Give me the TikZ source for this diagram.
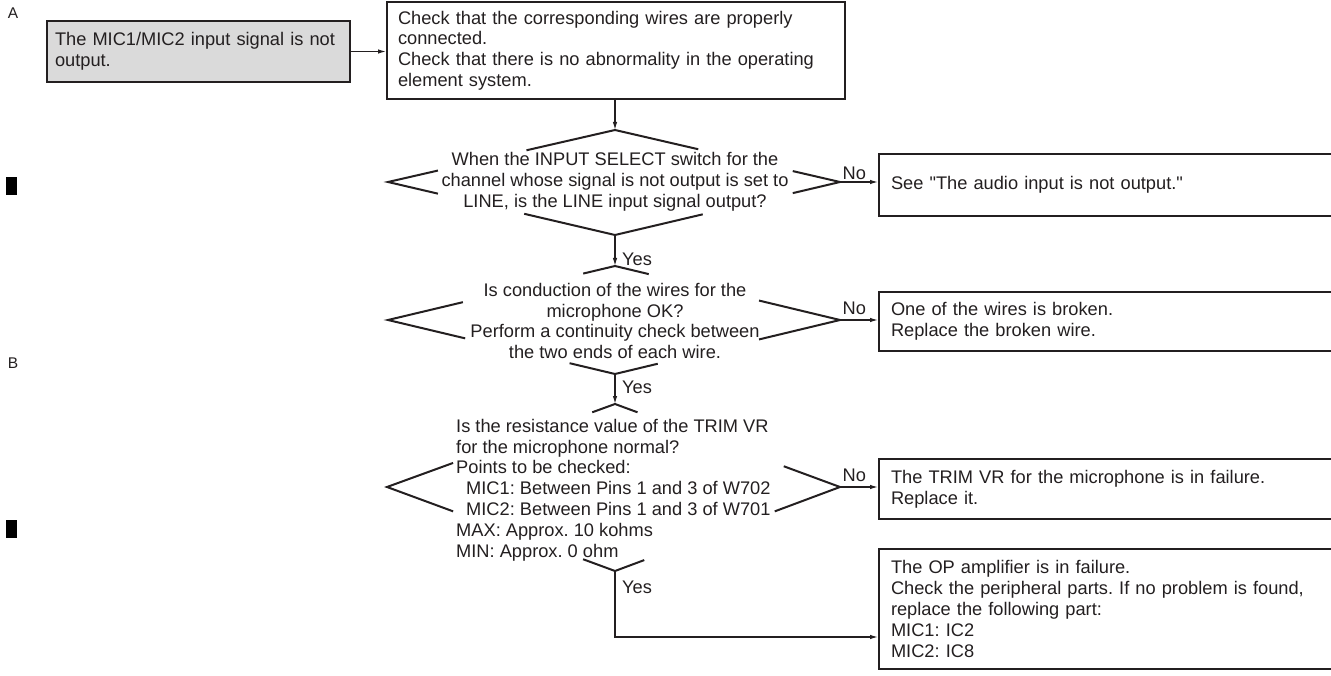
\documentclass[tikz,border=0pt]{standalone}
\usepackage{fontspec}
\setmainfont{Liberation Sans}[Ligatures=TeXOff]
\usetikzlibrary{arrows.meta,calc}
\definecolor{ink}{HTML}{231F20}
\definecolor{startfill}{HTML}{DADADA}
\frenchspacing

% Decision outline: four edges, each drawn only near its two vertices.
% #1 prefix of the vertex coordinates (t,l,r,b); #2..#9 fractions of each edge
% drawn from: t->l, l->t, t->r, r->t, b->l, l->b, b->r, r->b
\newcommand\decisionoutline[9]{%
  \draw[dline] ($(#1t)!#2!(#1l)$) -- (#1t) -- ($(#1t)!#4!(#1r)$);
  \draw[dline] ($(#1l)!#3!(#1t)$) -- (#1l) -- ($(#1l)!#7!(#1b)$);
  \draw[dline] ($(#1r)!#5!(#1t)$) -- (#1r) -- ($(#1r)!#9!(#1b)$);
  \draw[dline] ($(#1b)!#6!(#1l)$) -- (#1b) -- ($(#1b)!#8!(#1r)$);
}

\begin{document}
\begin{tikzpicture}[x=1pt,y=-1pt,
  every node/.style={font=\fontsize{18.25}{20.8}\selectfont, text=ink},
  box/.style={draw=ink, line width=2pt, anchor=north west, align=left,
              inner xsep=11pt, inner ysep=0pt},
  qtext/.style={inner sep=0pt},
  dline/.style={draw=ink, line width=2pt, line join=miter},
  arr/.style={draw=ink, line width=1.2pt, -{Latex[length=8pt,width=4.5pt]}},
  lbl/.style={inner sep=0pt},
  side/.style={font=\fontsize{15.5}{18}\selectfont}]
\useasboundingbox (0,0) rectangle (1331,676);
\clip (0,0) rectangle (1331,676);

% margin marks
\node[side] (markA) at (13,13) {A};
\node[side] (markB) at (13,363) {B};
\fill[black] (6,177) rectangle (17,195);
\fill[black] (6,520) rectangle (17,538);

% start and first check
\node[box, fill=startfill, inner xsep=8pt, text width=287, minimum height=61]
  (start) at (46,20) {The MIC1/MIC2 input signal is not\\output.};
\node[box, minimum width=458, text width=436, minimum height=97] (check) at (386,1)
  {Check that the corresponding wires are properly\\connected.\\
   Check that there is no abnormality in the operating\\element system.};

% decision vertices
\coordinate (qat) at (615,130); \coordinate (qal) at (388,182);
\coordinate (qar) at (840,182); \coordinate (qab) at (615,235);
\coordinate (qbt) at (615,266); \coordinate (qbl) at (388,320);
\coordinate (qbr) at (840,320); \coordinate (qbb) at (615,374);
\coordinate (qct) at (615,404); \coordinate (qcl) at (387,487);
\coordinate (qcr) at (840,487); \coordinate (qcb) at (615,571);

\decisionoutline{qa}{.39}{.22}{.37}{.21}{.40}{.22}{.39}{.21}
\decisionoutline{qb}{.14}{.33}{.15}{.36}{.20}{.34}{.19}{.36}
\decisionoutline{qc}{.10}{.29}{.10}{.25}{.14}{.29}{.13}{.29}

\node[qtext, align=center] (qa) at (615,182)
  {When the INPUT SELECT switch for the\\
   channel whose signal is not output is set to\\
   LINE, is the LINE input signal output?};
\node[qtext, align=center] (qb) at (615,321)
  {Is conduction of the wires for the\\microphone OK?\\
   Perform a continuity check between\\the two ends of each wire.};
\node[qtext, align=left, anchor=west] (qc) at (456,490)
  {Is the resistance value of the TRIM VR\\
   for the microphone normal?\\
   Points to be checked:\\
   \hspace*{10pt}MIC1: Between Pins 1 and 3 of W702\\
   \hspace*{10pt}MIC2: Between Pins 1 and 3 of W701\\
   MAX: Approx. 10 kohms\\
   MIN: Approx. 0 ohm};

% result boxes (run past the right edge)
\node[box, inner xsep=12pt, text width=441, minimum height=62] (see) at (878,153)
  {See "The audio input is not output."};
\node[box, inner xsep=12pt, text width=441, minimum height=59] (broken) at (878,291)
  {One of the wires is broken.\\Replace the broken wire.};
\node[box, inner xsep=12pt, text width=441, minimum height=60] (trim) at (878,458)
  {The TRIM VR for the microphone is in failure.\\Replace it.};
\node[box, inner xsep=12pt, text width=441, minimum height=120] (opamp) at (878,548)
  {The OP amplifier is in failure.\\
   Check the peripheral parts. If no problem is found,\\
   replace the following part:\\
   MIC1: IC2\\
   MIC2: IC8};

% connectors
\draw[arr] (start.east) -- (start.east -| check.west);
\draw[arr] (check.south -| qat) -- (qat);
\draw[arr] (qar) -- (qar -| see.west)
  node[lbl, at start, anchor=south west, xshift=2pt, yshift=1.5pt] {No};
\draw[arr] (qab) -- (qbt)
  node[lbl, pos=0.77, anchor=west, xshift=6.5pt] {Yes};
\draw[arr] (qbr) -- (qbr -| broken.west)
  node[lbl, at start, anchor=south west, xshift=2pt, yshift=5pt] {No};
\draw[arr] (qbb) -- (qct)
  node[lbl, pos=0.45, anchor=west, xshift=6.5pt] {Yes};
\draw[arr] (qcr) -- (qcr -| trim.west)
  node[lbl, at start, anchor=south west, xshift=2pt, yshift=5pt] {No};
\draw[arr] (qcb) |- (opamp.west |- 615,637)
  node[lbl, pos=0.12, anchor=west, xshift=6.5pt] {Yes};
\end{tikzpicture}
\end{document}
